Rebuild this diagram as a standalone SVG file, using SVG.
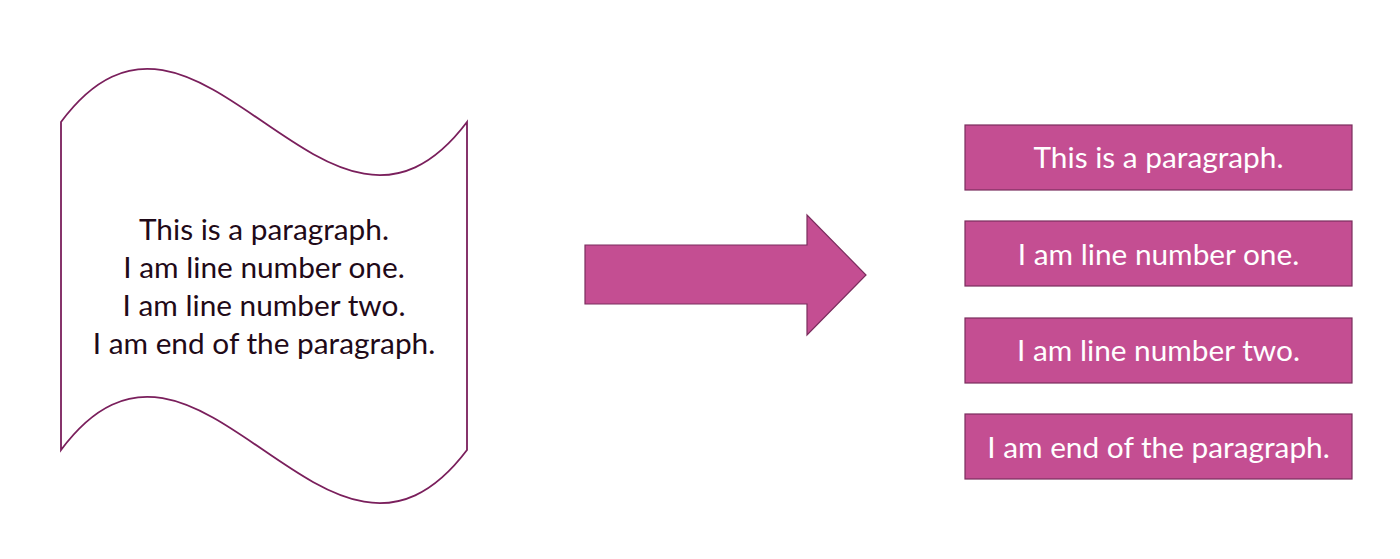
<svg xmlns="http://www.w3.org/2000/svg" width="1400" height="559" viewBox="0 0 1400 559">
<style>
.doc{fill:#ffffff;stroke:#7a1f5c;stroke-width:1.8}
.dtxt{font-family:Lato,"Open Sans",sans-serif;font-size:29.8px;fill:#1f0a18;text-anchor:middle}
.box{fill:#c44e92;stroke:#7b2d5e;stroke-width:1.2}
.btxt{font-family:Lato,"Open Sans",sans-serif;font-size:29.8px;fill:#ffffff;text-anchor:middle}
.arrow{fill:#c44e92;stroke:#7b2d5e;stroke-width:1.2}
</style>
<rect width="1400" height="559" fill="#ffffff"/>
<g id="document">
<path class="doc" d="M61,122 C198,-62 328,306 467,122 L467,450 C328,634 198,266 61,450 Z"/>
<text class="dtxt" x="264" y="240">This is a paragraph.</text>
<text class="dtxt" x="264" y="278">I am line number one.</text>
<text class="dtxt" x="264" y="316">I am line number two.</text>
<text class="dtxt" x="264" y="354">I am end of the paragraph.</text>
</g>
<g id="connectors">
<path class="arrow" d="M585,245 L807,245 L807,215 L866,275 L807,335 L807,304 L585,304 Z"/>
</g>
<g id="line1">
<rect class="box" x="965" y="125" width="387" height="65"/>
<text class="btxt" x="1158.5" y="168">This is a paragraph.</text>
</g>
<g id="line2">
<rect class="box" x="965" y="221" width="387" height="65"/>
<text class="btxt" x="1158.5" y="265">I am line number one.</text>
</g>
<g id="line3">
<rect class="box" x="965" y="318" width="387" height="65"/>
<text class="btxt" x="1158.5" y="361">I am line number two.</text>
</g>
<g id="line4">
<rect class="box" x="965" y="414" width="387" height="65"/>
<text class="btxt" x="1158.5" y="458">I am end of the paragraph.</text>
</g>
</svg>
